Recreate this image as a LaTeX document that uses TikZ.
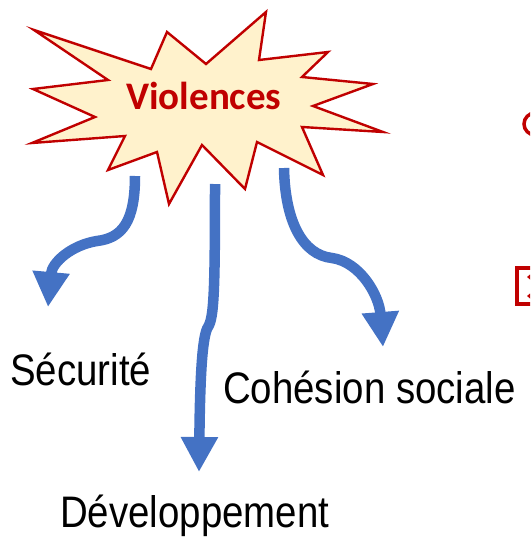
\documentclass[tikz,border=0pt]{standalone}
\usepackage{fontspec}
\setmainfont{Liberation Sans}
\newfontfamily\calfont{Carlito}
\usetikzlibrary{arrows.meta}
\definecolor{darkred}{HTML}{C00000}
\definecolor{burstfill}{HTML}{FFF2CC}
\definecolor{arrowblue}{HTML}{4472C4}
\tikzset{
  burst/.style={draw=darkred, fill=burstfill, line width=2.4pt, line join=miter},
  bluearrow/.style={draw=arrowblue, line width=10.5pt, -{Triangle[width=35pt,length=35pt]}},
  lbl/.style={anchor=base west, inner sep=0pt, font=\fontsize{38.4}{40}\selectfont},
  partial/.style={draw=darkred, line width=3.5pt}
}
\newcommand{\tallx}[1]{\scalebox{1}[1.15]{#1}}
\begin{document}
\begin{tikzpicture}[x=1pt,y=-1pt]
\useasboundingbox (0,0) rectangle (530,540);
\clip (0,0) rectangle (530,540);
% starburst
\draw[burst] (34,30) -- (151,69) -- (167,32) -- (206,64) -- (266,12) -- (259,60)
  -- (328,52) -- (302,77) -- (373,84) -- (313,106) -- (383,132) -- (302,127)
  -- (323,175) -- (257,142) -- (245,189) -- (202,145) -- (169,204) -- (157,152)
  -- (108,170) -- (125,136) -- (32,143) -- (95,117) -- (33,89) -- (108,80) -- cycle;
\node[anchor=base west, inner sep=0pt, text=darkred, font=\calfont\bfseries\fontsize{39}{40}\selectfont] (viol) at (126,110) {Violences};
% arrow start and end points
\coordinate (sL) at (135,176);
\coordinate (tL) at (48,307);
\coordinate (sM) at (215,184);
\coordinate (tM) at (199,472);
\coordinate (sR) at (284,168);
\coordinate (tR) at (383,347);
% arrows
\draw[bluearrow] (sL) .. controls (135,222) and (122,238) .. (97,241)
  .. controls (72,245) and (52,262) .. (tL);
\draw[bluearrow] (sM) .. controls (215,290) and (214,318) .. (208,327)
  .. controls (202,336) and (200,380) .. (tM);
\draw[bluearrow] (sR) .. controls (285,222) and (303,255) .. (332,258)
  .. controls (360,262) and (379,295) .. (tR);
% labels
\node[lbl] (sec) at (10,385) {\tallx{Sécurité}};
\node[lbl] (coh) at (223,403) {\tallx{Cohésion sociale}};
\node[lbl] (dev) at (60,527) {\tallx{Développement}};
% partial shapes at right edge
\draw[partial] (535,124) circle (11);
\draw[partial] (517,268) rectangle (548,304);
\fill[darkred] (527,277) -- (530,274.5) -- (530,279.5) -- cycle;
\fill[darkred] (527,296) -- (530,293.5) -- (530,298.5) -- cycle;
\end{tikzpicture}
\end{document}
